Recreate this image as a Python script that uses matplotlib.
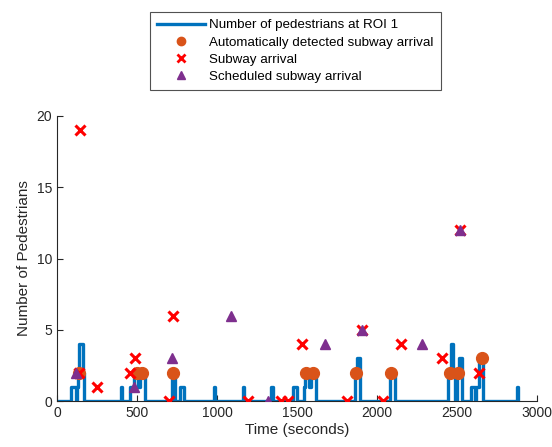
import matplotlib
matplotlib.use("Agg")
import matplotlib.pyplot as plt
import numpy as np

plt.rcParams['font.family'] = ['Liberation Sans', 'DejaVu Sans']

# pedestrian count at ROI 1 (step breakpoints: time, value)
count_t = [0, 87, 118, 124, 132, 138, 162, 168,
           398, 408,
           456, 483, 508, 518, 548,
           718, 737, 770, 795,
           980, 988, 1160, 1168, 1340, 1348,
           1478, 1498, 1545, 1552, 1572, 1585, 1620,
           1860, 1878, 1895,
           2083, 2115,
           2445, 2460, 2475, 2490, 2498, 2510, 2530,
           2590, 2615, 2620, 2635, 2665,
           2875, 2882]
count_v = [0, 1, 0, 1, 2, 4, 2, 0,
           1, 0,
           1, 2, 1, 2, 0,
           2, 0, 1, 0,
           1, 0, 1, 0, 1, 0,
           1, 0, 1, 2, 1, 2, 0,
           2, 3, 0,
           2, 0,
           2, 4, 2, 0, 2, 3, 0,
           1, 0, 1, 3, 0,
           1, 0]

detected_t = [140, 498, 529, 727, 1554, 1598, 1867, 2088, 2456, 2504, 2654]
detected_v = [2, 2, 2, 2, 2, 2, 2, 2, 2, 2, 3]

arrival_t = [144, 140, 250, 456, 487, 700, 725, 1196, 1400, 1444, 1533,
             1810, 1906, 2038, 2150, 2404, 2519, 2640]
arrival_v = [19, 2, 1, 2, 3, 0, 6, 0, 0, 0, 4, 0, 5, 0, 4, 3, 12, 2]

sched_t = [121, 481, 719, 1087, 1320, 1678, 1906, 2281, 2519]
sched_v = [2, 1, 3, 6, 0, 4, 5, 4, 12]

fig = plt.figure(figsize=(5.52, 4.47), dpi=100)
ax = fig.add_axes([0.1033, 0.1029, 0.8695, 0.6376])

ax.plot(count_t, count_v, drawstyle='steps-post', color='#0072BD',
        lw=2.4, zorder=2)
ax.plot(detected_t, detected_v, 'o', color='#D95319', ms=8.5,
        ls='none', zorder=3)
ax.plot(arrival_t, arrival_v, 'x', color='red', ms=7, mew=2.2,
        ls='none', zorder=4)
ax.plot(sched_t, sched_v, '^', color='#7E2F8E', ms=7.5,
        ls='none', zorder=5)

ax.set_xlim(0, 3000)
ax.set_ylim(0, 20)
ax.set_xticks(np.arange(0, 3001, 500))
ax.set_yticks([0, 5, 10, 15, 20])
for s in ['top', 'right']:
    ax.spines[s].set_visible(False)
for s in ['left', 'bottom']:
    ax.spines[s].set_color('#262626')
    ax.spines[s].set_linewidth(0.8)
ax.tick_params(direction='in', length=4, labelsize=10, colors='#262626')
ax.set_xlabel('Time (seconds)', fontsize=11, color='#262626', labelpad=2)
ax.set_ylabel('Number of Pedestrians', fontsize=11, color='#262626')

leg_line, = ax.plot([], [], color='#0072BD', lw=2.4)
leg_det, = ax.plot([], [], 'o', color='#D95319', ms=6, ls='none')
leg_arr, = ax.plot([], [], 'x', color='red', ms=6, mew=2, ls='none')
leg_sch, = ax.plot([], [], '^', color='#7E2F8E', ms=6, ls='none')
leg = fig.legend([leg_line, leg_det, leg_arr, leg_sch],
                 ['Number of pedestrians at ROI 1',
                  'Automatically detected subway arrival',
                  'Subway arrival', 'Scheduled subway arrival'],
                 loc='upper center', bbox_to_anchor=(0.535, 0.987),
                 fontsize=9.6, frameon=True, fancybox=False, edgecolor='#262626',
                 handlelength=3.6, borderpad=0.5, labelspacing=0.36,
                 handletextpad=0.35)
leg.get_frame().set_linewidth(0.8)

fig.savefig('out.png', dpi=100)
